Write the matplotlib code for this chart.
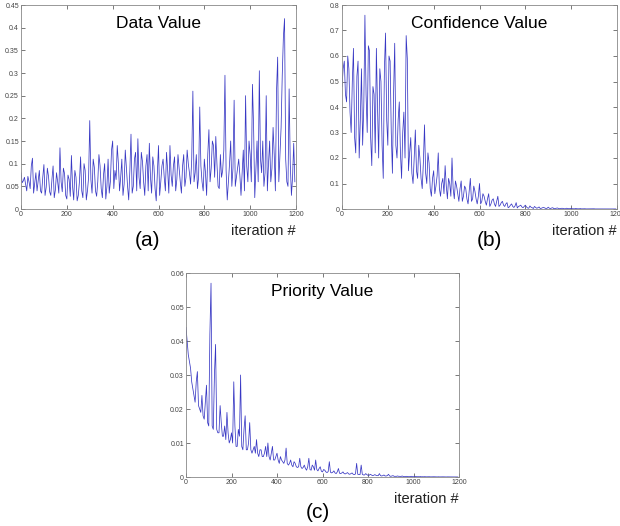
import numpy as np
import matplotlib
matplotlib.use("Agg")
import matplotlib.pyplot as plt

plt.rcParams['font.family'] = ['Liberation Sans', 'DejaVu Sans']

# values read every 10 iterations (at 0, 10, ...) and in between (at 5, 15, ...)
iter_a = np.arange(0, 1200, 10)
iter_b = np.arange(5, 1200, 10)

data_value_a = [
    0.080, 0.062, 0.055, 0.072, 0.045, 0.112, 0.058, 0.040, 0.085, 0.035,
    0.098, 0.048, 0.072, 0.030, 0.095, 0.042, 0.060, 0.135, 0.038, 0.078,
    0.022, 0.065, 0.118, 0.020, 0.070, 0.030, 0.115, 0.025, 0.085, 0.040,
    0.195, 0.035, 0.092, 0.028, 0.120, 0.045, 0.075, 0.022, 0.110, 0.060,
    0.150, 0.085, 0.140, 0.040, 0.110, 0.055, 0.090, 0.020, 0.165, 0.050,
    0.125, 0.155, 0.045, 0.105, 0.030, 0.120, 0.145, 0.035, 0.095, 0.018,
    0.140, 0.060, 0.110, 0.040, 0.085, 0.140, 0.050, 0.115, 0.065, 0.090,
    0.035, 0.120, 0.070, 0.100, 0.055, 0.260, 0.080, 0.045, 0.225, 0.060,
    0.110, 0.030, 0.175, 0.090, 0.140, 0.160, 0.050, 0.120, 0.085, 0.295,
    0.020, 0.100, 0.050, 0.240, 0.070, 0.110, 0.030, 0.130, 0.250, 0.060,
    0.120, 0.275, 0.025, 0.150, 0.305, 0.080, 0.050, 0.250, 0.100, 0.060,
    0.180, 0.040, 0.335, 0.120, 0.295, 0.420, 0.060, 0.265, 0.030, 0.145,
]
data_value_b = [
    0.058, 0.070, 0.040, 0.060, 0.095, 0.035, 0.080, 0.062, 0.040, 0.070,
    0.030, 0.090, 0.038, 0.065, 0.025, 0.080, 0.035, 0.060, 0.090, 0.030,
    0.075, 0.028, 0.050, 0.085, 0.018, 0.060, 0.040, 0.100, 0.020, 0.070,
    0.065, 0.110, 0.040, 0.060, 0.095, 0.025, 0.100, 0.050, 0.035, 0.130,
    0.045, 0.065, 0.100, 0.070, 0.030, 0.130, 0.050, 0.085, 0.035, 0.110,
    0.040, 0.070, 0.125, 0.060, 0.095, 0.040, 0.070, 0.115, 0.045, 0.080,
    0.030, 0.095, 0.070, 0.125, 0.035, 0.075, 0.095, 0.040, 0.120, 0.060,
    0.095, 0.050, 0.130, 0.080, 0.110, 0.060, 0.120, 0.070, 0.095, 0.040,
    0.080, 0.120, 0.060, 0.150, 0.070, 0.100, 0.045, 0.070, 0.130, 0.085,
    0.060, 0.150, 0.090, 0.050, 0.090, 0.075, 0.080, 0.040, 0.095, 0.150,
    0.060, 0.180, 0.090, 0.060, 0.110, 0.150, 0.080, 0.040, 0.150, 0.090,
    0.120, 0.260, 0.060, 0.180, 0.380, 0.110, 0.050, 0.100, 0.070, 0.060,
]

confidence_value_a = [
    0.48, 0.58, 0.42, 0.55, 0.30, 0.63, 0.22, 0.58, 0.35, 0.25,
    0.76, 0.30, 0.62, 0.17, 0.45, 0.63, 0.20, 0.50, 0.12, 0.69,
    0.25, 0.58, 0.14, 0.65, 0.20, 0.42, 0.12, 0.38, 0.68, 0.15,
    0.28, 0.10, 0.31, 0.12, 0.20, 0.08, 0.33, 0.10, 0.18, 0.05,
    0.15, 0.09, 0.22, 0.05, 0.12, 0.17, 0.04, 0.10, 0.20, 0.04,
    0.09, 0.03, 0.11, 0.05, 0.08, 0.02, 0.12, 0.04, 0.07, 0.02,
    0.10, 0.03, 0.05, 0.015, 0.06, 0.02, 0.04, 0.01, 0.05, 0.015,
    0.03, 0.01, 0.025, 0.008, 0.02, 0.006, 0.025, 0.01, 0.015, 0.005,
    0.015, 0.004, 0.012, 0.005, 0.01, 0.003, 0.008, 0.003, 0.006, 0.002,
    0.007, 0.002, 0.005, 0.002, 0.004, 0.001, 0.003, 0.001, 0.003, 0.001,
    0.002, 0.001, 0.002, 0.001, 0.0015, 0.0005, 0.001, 0.0005, 0.001, 0.0005,
    0.0008, 0.0004, 0.0006, 0.0003, 0.0005, 0.0003, 0.0004, 0.0002, 0.0003, 0.0002,
]
confidence_value_b = [
    0.55, 0.45, 0.60, 0.38, 0.50, 0.28, 0.52, 0.20, 0.55, 0.40,
    0.45, 0.64, 0.28, 0.48, 0.22, 0.40, 0.55, 0.25, 0.55, 0.35,
    0.60, 0.30, 0.45, 0.25, 0.35, 0.22, 0.30, 0.20, 0.59, 0.22,
    0.14, 0.20, 0.15, 0.25, 0.12, 0.18, 0.14, 0.22, 0.08, 0.12,
    0.06, 0.13, 0.08, 0.10, 0.06, 0.09, 0.12, 0.05, 0.08, 0.11,
    0.06, 0.08, 0.03, 0.09, 0.04, 0.07, 0.03, 0.09, 0.04, 0.05,
    0.02, 0.06, 0.03, 0.04, 0.01, 0.035, 0.02, 0.03, 0.01, 0.025,
    0.015, 0.02, 0.005, 0.015, 0.01, 0.012, 0.004, 0.012, 0.008, 0.01,
    0.008, 0.003, 0.007, 0.002, 0.006, 0.005, 0.002, 0.005, 0.004, 0.003,
    0.003, 0.004, 0.001, 0.003, 0.002, 0.002, 0.002, 0.001, 0.002, 0.0015,
    0.0012, 0.0008, 0.001, 0.0008, 0.0006, 0.0008, 0.0004, 0.0007, 0.0004, 0.0006,
    0.0003, 0.0005, 0.0003, 0.0004, 0.0002, 0.0003, 0.0002, 0.0002, 0.0001, 0.0002,
]

priority_value_a = [
    0.044, 0.036, 0.032, 0.026, 0.022, 0.031, 0.020, 0.024, 0.017, 0.027,
    0.015, 0.057, 0.014, 0.039, 0.013, 0.021, 0.012, 0.015, 0.019, 0.010,
    0.013, 0.028, 0.009, 0.014, 0.030, 0.008, 0.018, 0.008, 0.016, 0.007,
    0.009, 0.011, 0.006, 0.008, 0.006, 0.009, 0.010, 0.005, 0.009, 0.005,
    0.007, 0.004, 0.005, 0.004, 0.0085, 0.0035, 0.005, 0.003, 0.004, 0.0028,
    0.0055, 0.0025, 0.0035, 0.002, 0.0055, 0.002, 0.003, 0.005, 0.0018, 0.003,
    0.0015, 0.002, 0.0013, 0.0045, 0.0012, 0.0018, 0.001, 0.0025, 0.001, 0.0015,
    0.0009, 0.0013, 0.0008, 0.0012, 0.0007, 0.004, 0.0007, 0.0035, 0.0006, 0.001,
    0.0005, 0.0008, 0.0004, 0.0007, 0.0004, 0.001, 0.0003, 0.0006, 0.0003, 0.0008,
    0.0002, 0.0004, 0.0002, 0.0003, 0.0002, 0.0003, 0.0001, 0.0002, 0.0001, 0.0002,
    0.0001, 0.00015, 0.0001, 0.00012, 0.00008, 0.0001, 0.00006, 0.00008, 0.00005, 0.00007,
    0.00004, 0.00006, 0.00004, 0.00005, 0.00003, 0.00004, 0.00003, 0.00003, 0.00002, 0.00002,
]
priority_value_b = [
    0.040, 0.034, 0.028, 0.024, 0.028, 0.021, 0.019, 0.018, 0.022, 0.016,
    0.042, 0.015, 0.030, 0.014, 0.013, 0.016, 0.012, 0.011, 0.013, 0.011,
    0.010, 0.015, 0.009, 0.012, 0.009, 0.014, 0.008, 0.010, 0.008, 0.008,
    0.007, 0.007, 0.008, 0.006, 0.007, 0.006, 0.006, 0.007, 0.005, 0.006,
    0.005, 0.006, 0.0045, 0.005, 0.004, 0.004, 0.0035, 0.0045, 0.003, 0.003,
    0.003, 0.0028, 0.0025, 0.003, 0.0022, 0.0035, 0.002, 0.0022, 0.0025, 0.0017,
    0.0022, 0.0015, 0.0016, 0.0014, 0.0014, 0.0012, 0.0015, 0.0011, 0.0012, 0.001,
    0.0011, 0.0009, 0.001, 0.0008, 0.0009, 0.0008, 0.0007, 0.0008, 0.0006, 0.0007,
    0.0005, 0.0006, 0.0005, 0.0005, 0.0004, 0.0004, 0.0004, 0.0003, 0.0004, 0.0003,
    0.0003, 0.0002, 0.0002, 0.0002, 0.00015, 0.00015, 0.00012, 0.0001, 0.0001, 0.0001,
    0.00008, 0.00007, 0.00007, 0.00006, 0.00006, 0.00005, 0.00005, 0.00004, 0.00004, 0.00004,
    0.00003, 0.00003, 0.00003, 0.00003, 0.00002, 0.00002, 0.00002, 0.00002, 0.00002, 0.00001,
]

titles = ["Data Value", "Confidence Value", "Priority Value"]
panel_tags = ["(a)", "(b)", "(c)"]
y_limits = [0.45, 0.8, 0.06]
y_steps = [0.05, 0.1, 0.01]

W, H = 620, 526
fig = plt.figure(figsize=(W / 100, H / 100), dpi=100)

# axes boxes in pixels: left, top, right, bottom
boxes = [(21, 5, 296, 209), (342, 5, 617, 209), (186, 273, 459, 477)]
tag_pos = [(148, 241), (489, 241), (318, 513)]
series = [(data_value_a, data_value_b),
          (confidence_value_a, confidence_value_b),
          (priority_value_a, priority_value_b)]

for k in range(3):
    l, t, r, b = boxes[k]
    ax = fig.add_axes([l / W, 1 - b / H, (r - l) / W, (b - t) / H])
    # merge the two readings into one series ordered by iteration
    x = np.concatenate([iter_a, iter_b])
    y = np.concatenate([series[k][0], series[k][1]])
    order = np.argsort(x)
    ax.plot(x[order], y[order], color='#3838c4', lw=0.55)
    ax.set_xlim(0, 1200)
    ax.set_ylim(0, y_limits[k])
    ax.set_xticks(np.arange(0, 1201, 200))
    yt = np.arange(0, y_limits[k] + 1e-9, y_steps[k])
    ax.set_yticks(yt)
    ax.set_yticklabels(['0'] + ['%g' % v for v in yt[1:]])
    ax.tick_params(direction='in', length=3, width=0.5, labelsize=5,
                   colors='#444444', top=True, right=True, pad=1.5)
    for s in ax.spines.values():
        s.set_color('#888888')
        s.set_linewidth(0.6)
    ax.text(0.5, 0.91, titles[k], transform=ax.transAxes, ha='center',
            va='center', fontsize=12.5)
    fig.text(r / W, 1 - (b + 22) / H, "iteration #", ha='right',
             va='center', fontsize=10.5, color='#222222')
    fig.text(tag_pos[k][0] / W, 1 - tag_pos[k][1] / H, panel_tags[k],
             ha='center', va='center', fontsize=15)

fig.savefig("out.png", dpi=100)
